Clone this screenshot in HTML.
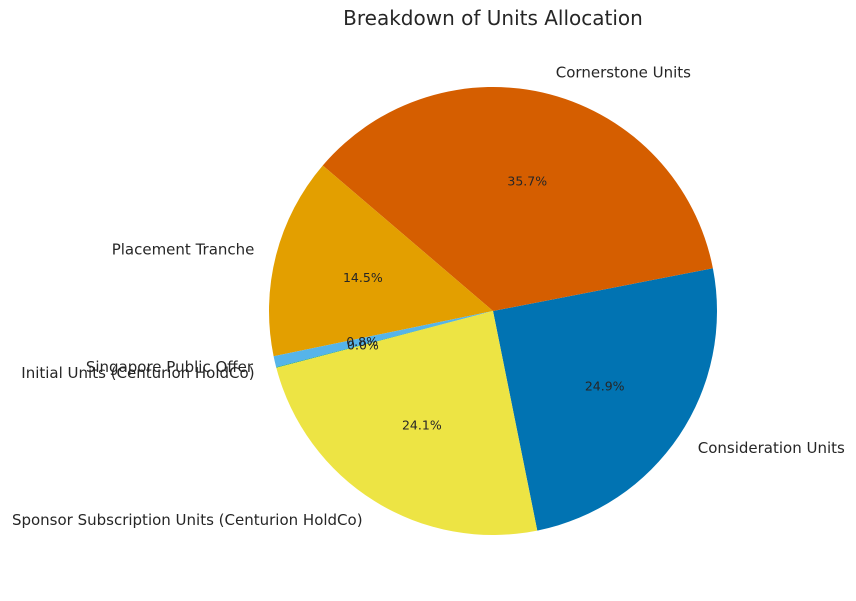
<!DOCTYPE html>
<html><head><meta charset="utf-8"><style>
html,body{margin:0;padding:0;background:#fff;}
svg{display:block;font-family:"DejaVu Sans","Liberation Sans",sans-serif;}
</style></head><body>
<svg id="chart" width="856" height="601" viewBox="0 0 856 601">
<rect width="856" height="601" fill="#fff"/>
<text x="493" y="25" text-anchor="middle" font-size="20" fill="#262626">Breakdown of Units Allocation</text>
<g id="slices"></g><g id="labels"></g>
</svg>
<script>
const categories = ["Consideration Units","Cornerstone Units","Placement Tranche","Singapore Public Offer","Initial Units (Centurion HoldCo)","Sponsor Subscription Units (Centurion HoldCo)"];
const values = [24.9, 35.7, 14.5, 0.8, 0.04, 24.1];
const colors = ["#0173b2","#d55e00","#e39f00","#56b4e9","#029e73","#ede444"];
const startAngle = -78.6;
const cx = 493, cy = 311, r = 224;
const NS = "http://www.w3.org/2000/svg";
const gs = document.getElementById("slices"), gl = document.getElementById("labels");
const total = values.reduce((a,b)=>a+b,0);
function pt(deg, rad){ const a = deg*Math.PI/180; return [cx + rad*Math.cos(a), cy - rad*Math.sin(a)]; }
let ang = startAngle;
values.forEach((v,i)=>{
  const span = v/total*360;
  const a0 = ang, a1 = ang + span;
  const p0 = pt(a0,r), p1 = pt(a1,r);
  const path = document.createElementNS(NS,"path");
  path.setAttribute("d",`M${cx},${cy} L${p0[0]},${p0[1]} A${r},${r} 0 ${span>180?1:0} 0 ${p1[0]},${p1[1]} Z`);
  path.setAttribute("fill",colors[i]);
  
  
  gs.appendChild(path);
  const mid = (a0+a1)/2;
  const lp = pt(mid, r*1.1);
  const t = document.createElementNS(NS,"text");
  t.setAttribute("x",lp[0]); t.setAttribute("y",lp[1]+5);
  t.setAttribute("font-size","15"); t.setAttribute("fill","#262626");
  t.setAttribute("text-anchor", Math.cos(mid*Math.PI/180) >= 0 ? "start" : "end");
  t.textContent = categories[i];
  
  
  gl.appendChild(t);
  const pp = pt(mid, r*0.6);
  const pc = document.createElementNS(NS,"text");
  pc.setAttribute("x",pp[0]); pc.setAttribute("y",pp[1]+4.5);
  pc.setAttribute("font-size","12.5"); pc.setAttribute("fill","#262626");
  pc.setAttribute("text-anchor","middle");
  pc.textContent = (v/total*100).toFixed(1)+"%";
  
  
  gl.appendChild(pc);
  ang = a1;
});
</script>
</body></html>
